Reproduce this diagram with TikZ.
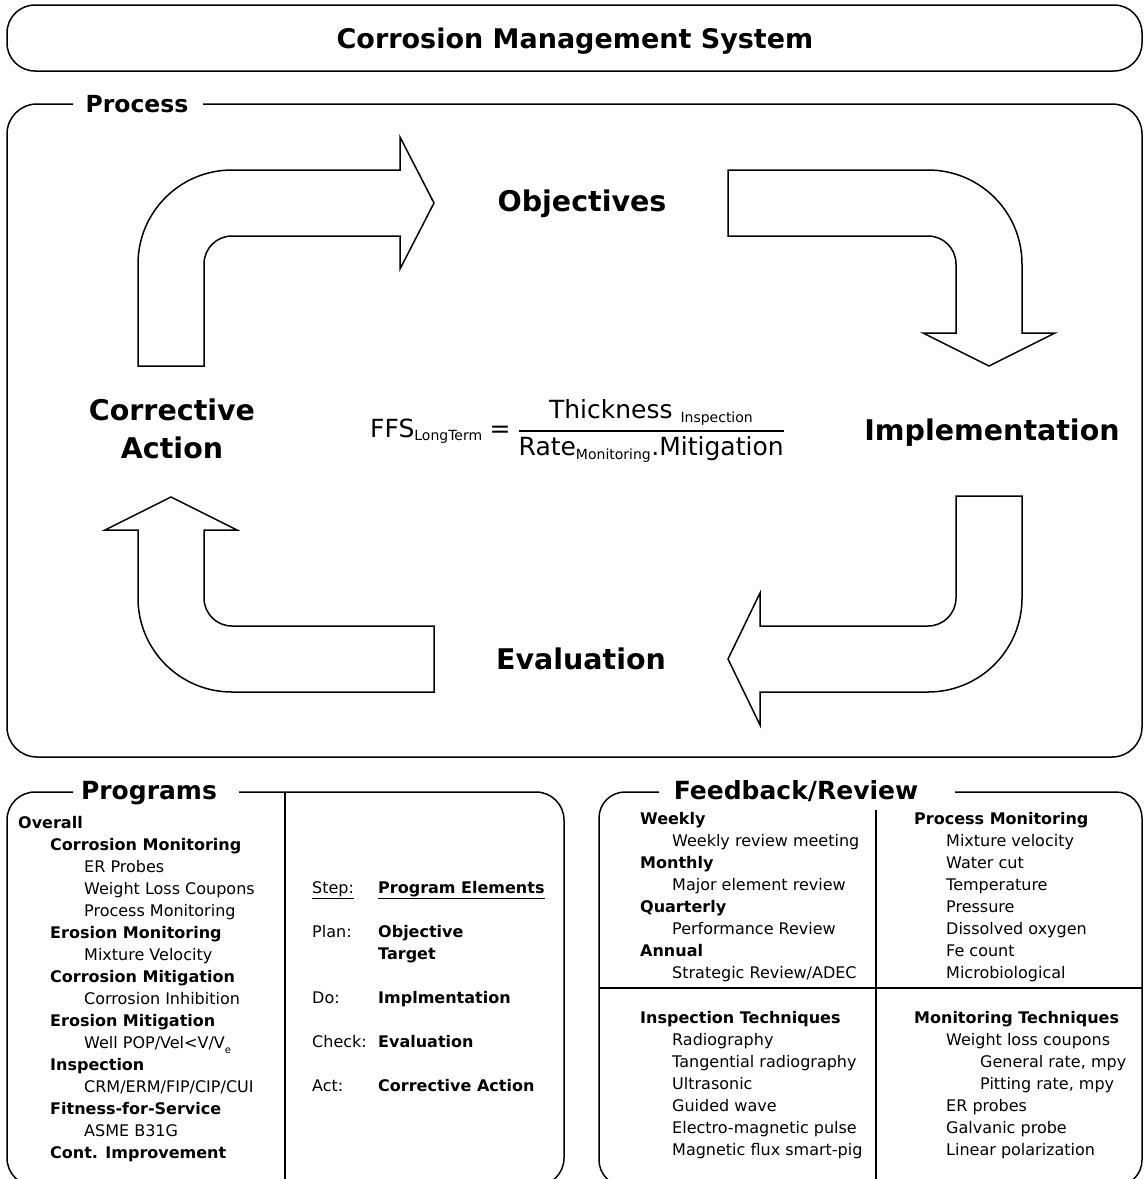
\documentclass[tikz,border=0pt]{standalone}
\usepackage{fontspec}
\setmainfont{DejaVu Sans}
\newcommand{\indA}{\hspace*{32pt}}
\newcommand{\indB}{\hspace*{66pt}}
\newcommand{\subtxt}[1]{\mbox{\fontsize{14}{14}\selectfont #1}}

\begin{document}
\begin{tikzpicture}[x=1pt, y=-1pt,
  frame/.style={line width=1.5pt},
  blockarrow/.style={draw, line width=1.5pt, line join=miter, fill=white},
  boxtitle/.style={anchor=base, inner sep=0pt, font=\fontsize{25}{30}\selectfont\bfseries},
  stage/.style={inner sep=0pt, font=\fontsize{28.5}{38}\selectfont\bfseries, align=center},
  listcol/.style={anchor=base west, inner sep=0pt, font=\fontsize{16}{22}\selectfont}
]
\useasboundingbox (0,0) rectangle (1144,1179);
\clip (0,0) rectangle (1144,1179);

% title
\draw[frame, rounded corners=28pt] (7,5) rectangle (1142,71);
\node[anchor=base, inner sep=0pt, font=\fontsize{27}{32}\selectfont\bfseries] (title) at (575,48) {Corrosion Management System};

% process frame
\draw[frame, rounded corners=30pt] (73,104) -- (7,104) -- (7,757) -- (1142,757) -- (1142,104) -- (203,104);
\node[boxtitle, font=\fontsize{23.5}{28}\selectfont\bfseries] (process) at (137,112) {Process};

% bent block arrows
\draw[blockarrow] (138,366) -- (138,264) .. controls (138,212) and (180,170) .. (232,170) -- (400,170)
  -- (400,137) -- (434,203) -- (400,269) -- (400,236) -- (232,236)
  .. controls (216.5,236) and (204,248.5) .. (204,264) -- (204,366) -- cycle;
\draw[blockarrow] (728,170) -- (928,170) .. controls (980,170) and (1022,212) .. (1022,264) -- (1022,333)
  -- (1055,333) -- (989,366) -- (923,333) -- (956,333) -- (956,264)
  .. controls (956,248.5) and (943.5,236) .. (928,236) -- (728,236) -- cycle;
\draw[blockarrow] (956,496) -- (1022,496) -- (1022,598) .. controls (1022,650) and (980,692) .. (928,692)
  -- (760,692) -- (760,725) -- (728,659) -- (760,593) -- (760,626) -- (928,626)
  .. controls (943.5,626) and (956,613.5) .. (956,598) -- cycle;
\draw[blockarrow] (434,626) -- (434,692) -- (232,692) .. controls (180,692) and (138,650) .. (138,598)
  -- (138,530) -- (105,530) -- (171,497) -- (237,530) -- (204,530) -- (204,598)
  .. controls (204,613.5) and (216.5,626) .. (232,626) -- cycle;

% stages
\node[stage, anchor=base] (objectives) at (582,211) {Objectives};
\node[stage, anchor=base] (implementation) at (992,440) {Implementation};
\node[stage, anchor=base] (evaluation) at (581,669) {Evaluation};
\node[stage] (corrective) at (172,429) {Corrective\\Action};

% fitness-for-service formula
\node[anchor=base west, inner sep=0pt, font=\fontsize{25}{30}\selectfont] (formula) at (370,437)
  {$\mbox{FFS}_{\subtxt{LongTerm}} \;\mbox{=}\;
   \displaystyle{\mbox{Thickness }_{\subtxt{Inspection}}
     \above 1.6pt
     \mbox{Rate}_{\subtxt{Monitoring}}\mbox{.Mitigation}}$};

% programs
\draw[frame, rounded corners=28pt] (73,792) -- (7,792) -- (7,1186) -- (564,1186) -- (564,792) -- (239,792);
\draw[frame] (285,792) -- (285,1179);
\node[boxtitle] (programs) at (149,799) {Programs};
\node[listcol] (overall) at (18,828) {\begin{tabular}[t]{@{}l@{}}
  \textbf{Overall}\\
  \indA\textbf{Corrosion Monitoring}\\
  \indB ER Probes\\
  \indB Weight Loss Coupons\\
  \indB Process Monitoring\\
  \indA\textbf{Erosion Monitoring}\\
  \indB Mixture Velocity\\
  \indA\textbf{Corrosion Mitigation}\\
  \indB Corrosion Inhibition\\
  \indA\textbf{Erosion Mitigation}\\
  \indB Well POP/Vel<V/V\raisebox{-5pt}{\fontsize{10}{10}\selectfont e}\\
  \indA\textbf{Inspection}\\
  \indB CRM/ERM/FIP/CIP/CUI\\
  \indA\textbf{Fitness-for-Service}\\
  \indB ASME B31G\\
  \indA\textbf{Cont. Improvement}
\end{tabular}};
\node[listcol] (pdca) at (312,893) {\begin{tabular}[t]{@{}p{66pt}@{}l@{}}
  \underline{Step:} & \underline{\textbf{Program Elements}}\\
  & \\
  Plan: & \textbf{Objective}\\
  & \textbf{Target}\\
  & \\
  Do: & \textbf{Implmentation}\\
  & \\
  Check: & \textbf{Evaluation}\\
  & \\
  Act: & \textbf{Corrective Action}
\end{tabular}};

% feedback/review
\draw[frame, rounded corners=26pt] (659,792) -- (599,792) -- (599,1186) -- (1142,1186) -- (1142,792) -- (955,792);
\draw[frame] (876,810) -- (876,1179);
\draw[frame] (599,988) -- (1142,988);
\node[boxtitle] (feedback) at (796,799) {Feedback/Review};
\node[listcol] (weekly) at (640,824) {\begin{tabular}[t]{@{}l@{}}
  \textbf{Weekly}\\
  \indA Weekly review meeting\\
  \textbf{Monthly}\\
  \indA Major element review\\
  \textbf{Quarterly}\\
  \indA Performance Review\\
  \textbf{Annual}\\
  \indA Strategic Review/ADEC
\end{tabular}};
\node[listcol] (procmon) at (914,824) {\begin{tabular}[t]{@{}l@{}}
  \textbf{Process Monitoring}\\
  \indA Mixture velocity\\
  \indA Water cut\\
  \indA Temperature\\
  \indA Pressure\\
  \indA Dissolved oxygen\\
  \indA Fe count\\
  \indA Microbiological
\end{tabular}};
\node[listcol] (insptech) at (640,1023) {\begin{tabular}[t]{@{}l@{}}
  \textbf{Inspection Techniques}\\
  \indA Radiography\\
  \indA Tangential radiography\\
  \indA Ultrasonic\\
  \indA Guided wave\\
  \indA Electro-magnetic pulse\\
  \indA Magnetic flux smart-pig
\end{tabular}};
\node[listcol] (montech) at (914,1023) {\begin{tabular}[t]{@{}l@{}}
  \textbf{Monitoring Techniques}\\
  \indA Weight loss coupons\\
  \indB General rate, mpy\\
  \indB Pitting rate, mpy\\
  \indA ER probes\\
  \indA Galvanic probe\\
  \indA Linear polarization
\end{tabular}};
\end{tikzpicture}
\end{document}
